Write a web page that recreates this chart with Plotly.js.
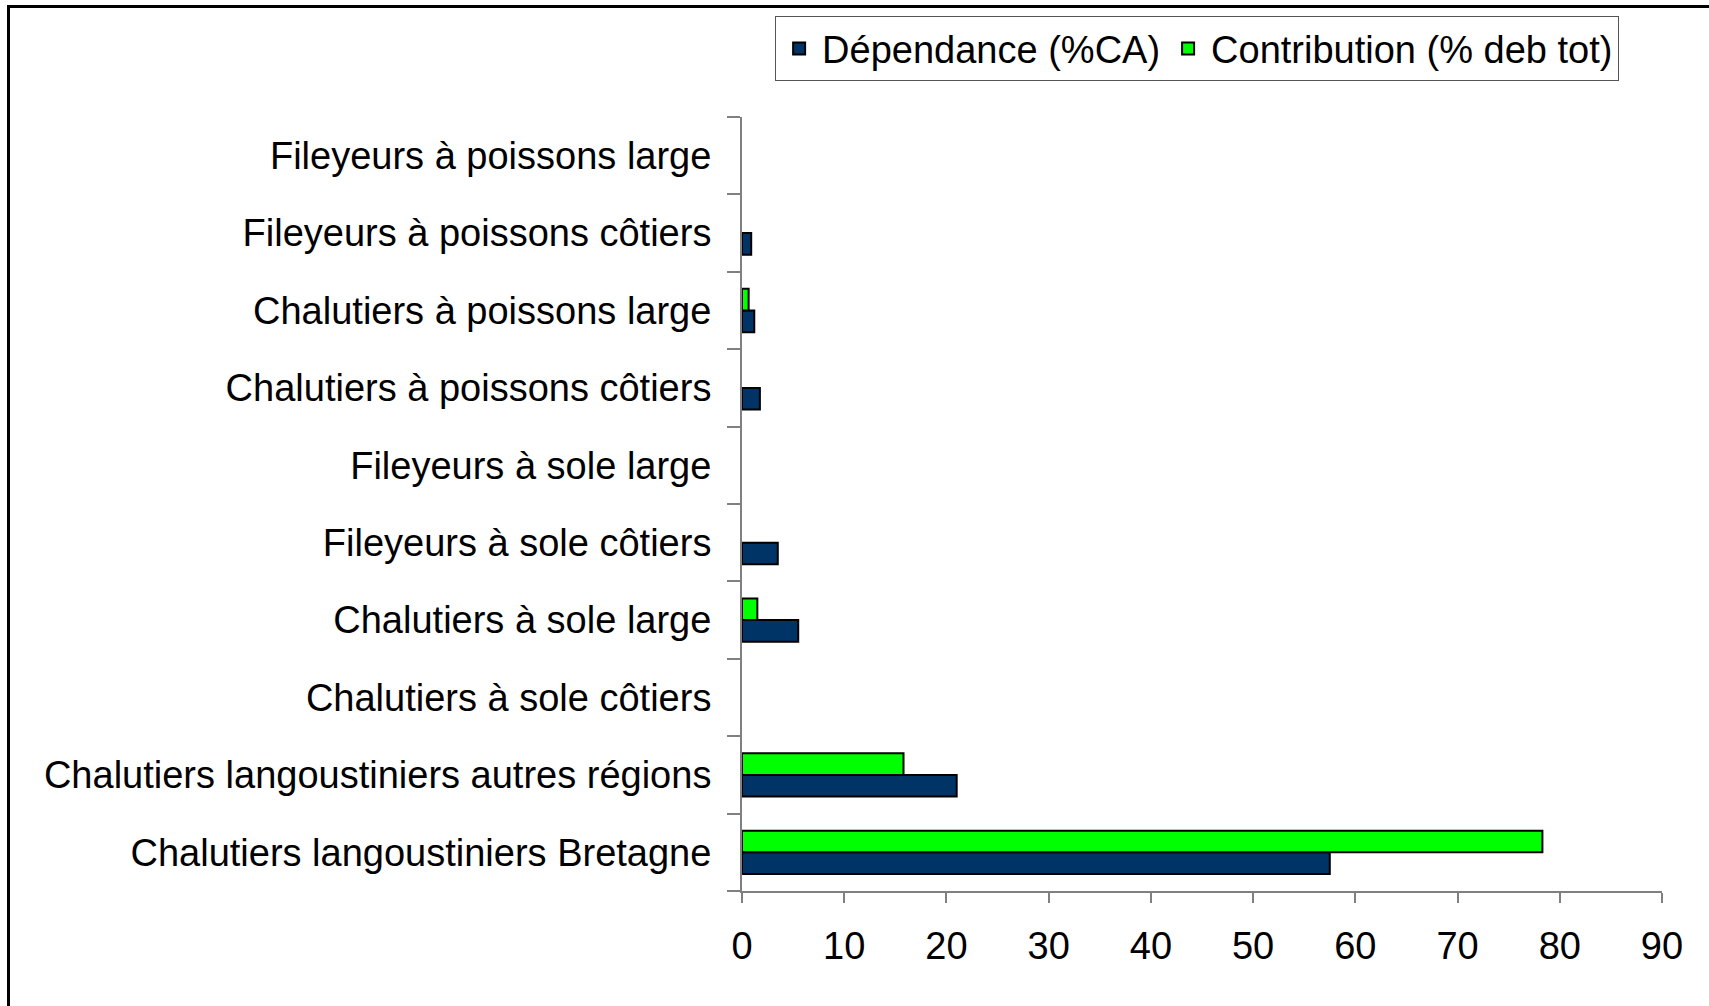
<!DOCTYPE html>
<html>
<head>
<meta charset="utf-8">
<script src="https://cdn.plot.ly/plotly-3.0.1.min.js"></script>
<style>
  html, body { margin: 0; padding: 0; overflow: hidden; background: #fff; }
  #frame { position: absolute; left: 7px; top: 5px; width: 1800px; height: 1100px; border: 3px solid #000; box-sizing: border-box; pointer-events: none; }
  #chart { position: absolute; left: 0; top: 0; width: 1709px; height: 1006px; }
</style>
</head>
<body>
<div id="chart"></div>
<div id="frame"></div>
<script>
// Categories, bottom to top
const categories = [
  "Chalutiers langoustiniers Bretagne",
  "Chalutiers langoustiniers autres régions",
  "Chalutiers à sole côtiers",
  "Chalutiers à sole large",
  "Fileyeurs à sole côtiers",
  "Fileyeurs à sole large",
  "Chalutiers à poissons côtiers",
  "Chalutiers à poissons large",
  "Fileyeurs à poissons côtiers",
  "Fileyeurs à poissons large"
];
// null = no bar drawn in the reference
const dependance = [57.5, 21.0, null, 5.5, 3.5, null, 1.75, 1.2, 0.9, null];
const contribution = [78.3, 15.8, null, 1.5, null, null, null, 0.65, null, null];
const xTicks = [0, 10, 20, 30, 40, 50, 60, 70, 80, 90];

const FONT = '"Liberation Sans", Arial, Helvetica, sans-serif';
const FS = 38;

const traces = [
  {
    type: 'bar', orientation: 'h', name: 'Dépendance (%CA)',
    y: categories, x: dependance,
    marker: { color: '#003366', line: { color: '#000', width: 2 } }
  },
  {
    type: 'bar', orientation: 'h', name: 'Contribution (% deb tot)',
    y: categories, x: contribution,
    marker: { color: '#00ff00', line: { color: '#000', width: 2 } }
  }
];

const layout = {
  width: 1709, height: 1006,
  margin: { l: 742, r: 47, t: 117, b: 115 },
  paper_bgcolor: '#fff', plot_bgcolor: '#fff',
  font: { family: FONT, size: FS, color: '#000' },
  barmode: 'group', bargap: 0.44, bargroupgap: 0,
  showlegend: true,
  legend: {
    orientation: 'h', x: 0.036, y: 1.13, xanchor: 'left', yanchor: 'top',
    bordercolor: '#555', borderwidth: 1, bgcolor: '#fff',
    itemwidth: 36,
    traceorder: 'normal', font: { family: FONT, size: FS, color: '#000' }
  },
  xaxis: {
    range: [0, 90], tickvals: xTicks, ticktext: xTicks.map(String),
    showgrid: false, zeroline: false,
    showline: true, linecolor: '#808080', linewidth: 2,
    ticks: 'outside', ticklen: 10, tickcolor: '#808080', tickwidth: 2,
    ticklabelstandoff: 10,
    tickfont: { family: FONT, size: FS, color: '#000' },
    fixedrange: true
  },
  yaxis: {
    type: 'category', categoryorder: 'array', categoryarray: categories,
    showgrid: false, zeroline: false,
    showline: true, linecolor: '#808080', linewidth: 2,
    ticks: 'outside', tickson: 'boundaries', ticklen: 13, tickcolor: '#808080', tickwidth: 2,
    ticklabelstandoff: 21,
    tickfont: { family: FONT, size: FS, color: '#000' },
    fixedrange: true
  }
};

Plotly.newPlot('chart', traces, layout, { displayModeBar: false, staticPlot: true });
</script>
</body>
</html>
